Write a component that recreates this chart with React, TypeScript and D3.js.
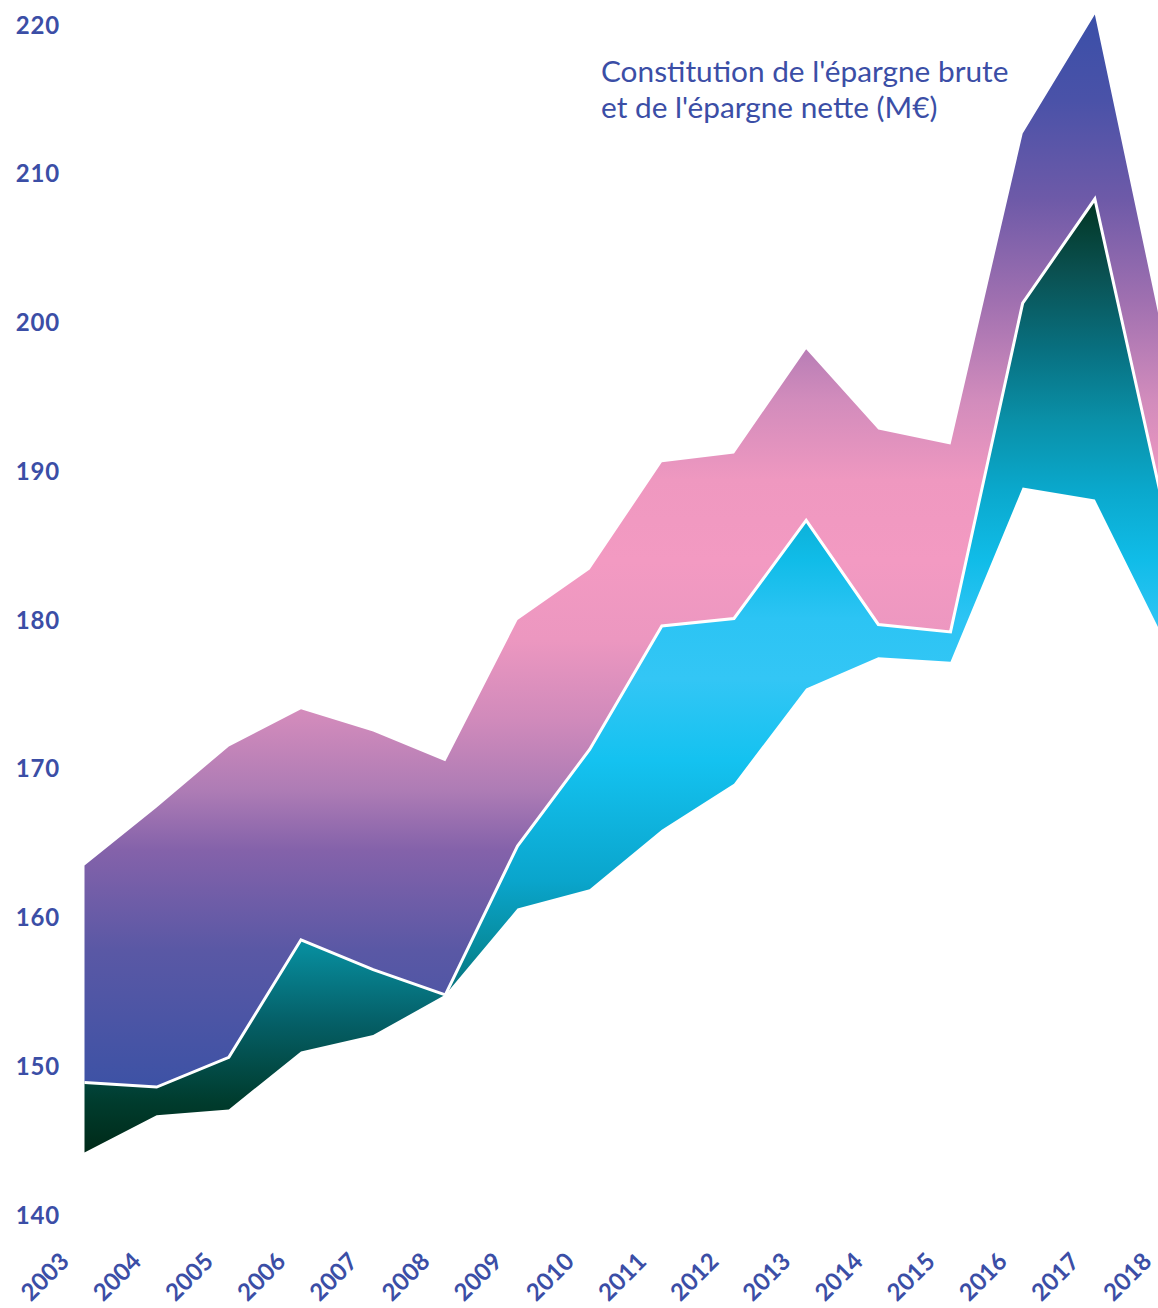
import React from "react";
import * as d3 from "d3";

const years = [2003, 2004, 2005, 2006, 2007, 2008, 2009, 2010, 2011, 2012, 2013, 2014, 2015, 2016, 2017, 2018];
// lower boundary of the "épargne nette" band
const baseline = [144.2, 146.7, 147.1, 151.0, 152.1, 154.8, 160.6, 161.9, 165.9, 169.0, 175.4, 177.5, 177.2, 188.9, 188.1, 178.3];
// boundary between the two bands (white line)
const epargneNette = [148.9, 148.6, 150.6, 158.5, 156.5, 154.8, 164.8, 171.3, 179.6, 180.1, 186.7, 179.7, 179.2, 201.3, 208.3, 186.5];
// upper boundary of the "épargne brute" band
const epargneBrute = [163.5, 167.4, 171.5, 174.0, 172.5, 170.5, 180.0, 183.4, 190.6, 191.2, 198.2, 192.8, 191.8, 212.7, 220.7, 197.8];
const yTicks = [140, 150, 160, 170, 180, 190, 200, 210, 220];
const titleLines = ["Constitution de l'épargne brute", "et de l'épargne nette (M€)"];

const upperStops: [number, string][] = [
  [0, "#3a4fa8"], [0.08, "#4a52a8"], [0.173, "#6e5aa8"], [0.267, "#a070b0"], [0.36, "#d28cbc"],
  [0.434, "#ef98c0"], [0.509, "#f39ac2"], [0.583, "#ec97c0"], [0.658, "#d08abb"], [0.723, "#ae7cb5"],
  [0.779, "#8462aa"], [0.872, "#5a58a5"], [1, "#3d52a5"],
];
const lowerStops: [number, string][] = [
  [0, "#013522"], [0.075, "#0a5050"], [0.158, "#087080"], [0.232, "#0a90a8"], [0.305, "#0aa8cc"],
  [0.378, "#10bce8"], [0.44, "#2cc4f4"], [0.503, "#33c6f5"], [0.589, "#14c2f0"], [0.715, "#0aa5cc"],
  [0.789, "#078a9a"], [0.862, "#056068"], [0.946, "#003c2e"], [1, "#002a18"],
];

const W = 1158;
const H = 1308;
const BLUE = "#3b4ea6";
const FONT = "Lato, 'Open Sans', sans-serif";

export default function App() {
  const x = d3.scaleLinear().domain([2003, 2018]).range([84.5, 1167]);
  const y = d3.scaleLinear().domain([140, 220]).range([1215, 25]);

  const idx = years.map((_, i) => i);
  const upperArea = d3
    .area<number>()
    .x((i) => x(years[i]))
    .y0((i) => y(epargneNette[i]))
    .y1((i) => y(epargneBrute[i]));
  const lowerArea = d3
    .area<number>()
    .x((i) => x(years[i]))
    .y0((i) => y(baseline[i]))
    .y1((i) => y(epargneNette[i]));
  const midLine = d3
    .line<number>()
    .x((i) => x(years[i]))
    .y((i) => y(epargneNette[i]));

  const upTop = y(d3.max(epargneBrute)!);
  const upBot = y(d3.min(epargneNette)!);
  const loTop = y(d3.max(epargneNette)!);
  const loBot = y(d3.min(baseline)!);

  return (
    <svg
      width={W}
      height={H}
      style={{ position: "absolute", left: 0, top: 0, display: "block", overflow: "hidden" }}
    >
      <defs>
        <linearGradient id="gUp" gradientUnits="userSpaceOnUse" x1={0} x2={0} y1={upTop} y2={upBot}>
          {upperStops.map(([o, c]) => (
            <stop key={o} offset={o} stopColor={c} />
          ))}
        </linearGradient>
        <linearGradient id="gLo" gradientUnits="userSpaceOnUse" x1={0} x2={0} y1={loTop} y2={loBot}>
          {lowerStops.map(([o, c]) => (
            <stop key={o} offset={o} stopColor={c} />
          ))}
        </linearGradient>
      </defs>
      <rect x={0} y={0} width={W} height={H} fill="#ffffff" />
      <path d={upperArea(idx)!} fill="url(#gUp)" />
      <path d={lowerArea(idx)!} fill="url(#gLo)" />
      <path d={midLine(idx)!} fill="none" stroke="#ffffff" strokeWidth={3} strokeLinejoin="miter" />

      {yTicks.map((t) => (
        <text
          key={t}
          x={60}
          y={y(t)}
          dy="0.36em"
          textAnchor="end"
          fill={BLUE}
          fontFamily={FONT}
          fontWeight={700}
          fontSize={24}
          letterSpacing={0.8}
        >
          {t}
        </text>
      ))}

      {years.map((yr) => {
        const ax = x(yr) - 14;
        const ay = 1263;
        return (
          <text
            key={yr}
            x={ax}
            y={ay}
            transform={`rotate(-45 ${ax} ${ay})`}
            textAnchor="end"
            fill={BLUE}
            fontFamily={FONT}
            fontWeight={700}
            fontSize={24}
          >
            {yr}
          </text>
        );
      })}

      {titleLines.map((l, i) => (
        <text key={i} x={601} y={82 + i * 36} fill={BLUE} fontFamily={FONT} fontSize={29.8}>
          {l}
        </text>
      ))}
    </svg>
  );
}
